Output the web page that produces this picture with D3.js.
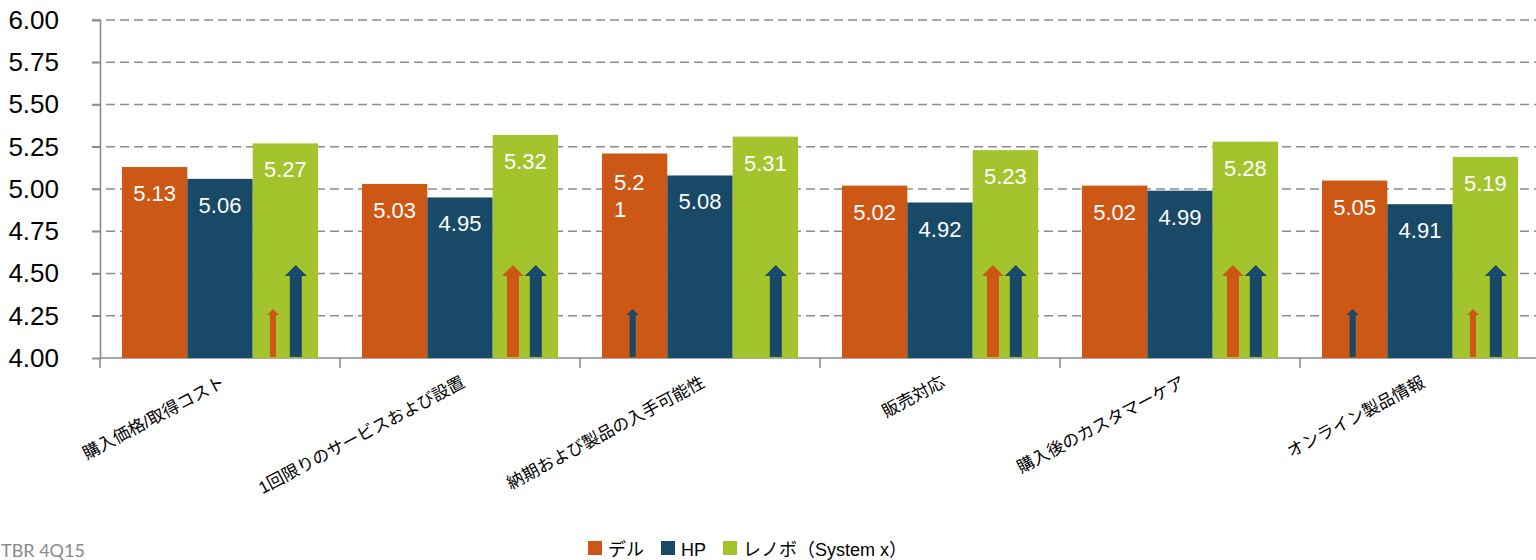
<!DOCTYPE html>
<html>
<head>
<meta charset="utf-8">
<script src="https://cdn.jsdelivr.net/npm/d3@7"></script>
<style>
  body { margin: 0; background: #fff; overflow: hidden; }
  svg { display: block; }
</style>
</head>
<body>
<div id="d3-container"></div>
<script>
/**
 * DATA
 * */
const categories = [
  "購入価格/取得コスト",
  "1回限りのサービスおよび設置",
  "納期および製品の入手可能性",
  "販売対応",
  "購入後のカスタマーケア",
  "オンライン製品情報"
];
const seriesNames = ["デル", "HP", "レノボ（System x）"];
const dell = [5.13, 5.03, 5.21, 5.02, 5.02, 5.05];
const hp = [5.06, 4.95, 5.08, 4.92, 4.99, 4.91];
const lenovo = [5.27, 5.32, 5.31, 5.23, 5.28, 5.19];
const yTicks = [4.00, 4.25, 4.50, 4.75, 5.00, 5.25, 5.50, 5.75, 6.00];

// significance arrows: [category, bar it sits in, series it beats, size]
const arrows = [
  [0, 2, 0, "small"], [0, 2, 1, "big"],
  [1, 2, 0, "big"], [1, 2, 1, "big"],
  [2, 0, 1, "small"], [2, 2, 1, "big"],
  [3, 2, 0, "big"], [3, 2, 1, "big"],
  [4, 2, 0, "big"], [4, 2, 1, "big"],
  [5, 0, 1, "small"], [5, 2, 0, "small"], [5, 2, 1, "big"]
];

/**
 * CONSTANTS
 * */
const width = 1536, height = 560;
const margin = { top: 20, left: 100, right: -4, bottom: 202 };
const colors = ["#cd5715", "#184966", "#a3c42d"];
const numFont = "'Liberation Sans', Arial, sans-serif";
const jpFont = "'Liberation Sans', 'Noto Sans CJK JP', sans-serif";
const arrowStyle = {
  big: { tip: 4.55, shaft: 12, head: 22, headH: 11 },
  small: { tip: 4.29, shaft: 6, head: 12, headH: 6 }
};

const values = [dell, hp, lenovo];

const svg = d3.select("#d3-container")
  .append("svg")
  .attr("width", width)
  .attr("height", height);

const x0 = d3.scaleBand()
  .domain(d3.range(categories.length))
  .range([margin.left, width - margin.right])
  .paddingInner(0.183)
  .paddingOuter(0.0915);

const x1 = d3.scaleBand()
  .domain(d3.range(seriesNames.length))
  .range([0, x0.bandwidth()]);

const y = d3.scaleLinear()
  .domain([4, 6])
  .range([height - margin.bottom, margin.top]);

const step = x0.step();
const plotLeft = margin.left;
const baseY = y(4);

// gridlines
svg.append("g")
  .selectAll("line")
  .data(yTicks.filter(d => d > 4))
  .join("line")
  .attr("x1", plotLeft - 8)
  .attr("x2", width)
  .attr("y1", d => y(d))
  .attr("y2", d => y(d))
  .attr("stroke", "#8c8c8c")
  .attr("stroke-width", 1.6)
  .attr("stroke-dasharray", "9,5");

// y axis
const yAxis = svg.append("g")
  .attr("transform", `translate(${plotLeft},0)`)
  .call(d3.axisLeft(y).tickValues(yTicks).tickFormat(d3.format(".2f")).tickSize(8).tickPadding(33));
yAxis.select(".domain").attr("stroke", "#8c8c8c").attr("stroke-width", 1.6);
yAxis.selectAll(".tick line").attr("stroke", "#8c8c8c").attr("stroke-width", 1.6).attr("x2", -8);
yAxis.selectAll(".tick text")
  .attr("fill", "#000")
  .style("font-family", numFont)
  .style("font-size", "26px");

// x axis
svg.append("line")
  .attr("x1", plotLeft).attr("x2", width)
  .attr("y1", baseY).attr("y2", baseY)
  .attr("stroke", "#8c8c8c").attr("stroke-width", 1.6);

svg.append("g")
  .selectAll("line")
  .data(d3.range(categories.length + 1))
  .join("line")
  .attr("x1", i => plotLeft + i * step)
  .attr("x2", i => plotLeft + i * step)
  .attr("y1", baseY)
  .attr("y2", baseY + 10)
  .attr("stroke", "#8c8c8c")
  .attr("stroke-width", 1.6);

// category labels
svg.append("g")
  .selectAll("text")
  .data(categories)
  .join("text")
  .attr("transform", (d, i) => `translate(${x0(i) + x0.bandwidth() / 2 + 6},${baseY + 28}) rotate(-28)`)
  .attr("text-anchor", "end")
  .style("font-family", jpFont)
  .style("font-size", "17px")
  .attr("fill", "#000")
  .text(d => d);

// bars
const group = svg.append("g")
  .selectAll("g")
  .data(categories)
  .join("g")
  .attr("transform", (d, i) => `translate(${x0(i)},0)`);

group.selectAll("rect")
  .data((d, i) => values.map((v, s) => ({ s, v: v[i] })))
  .join("rect")
  .attr("x", d => x1(d.s))
  .attr("width", x1.bandwidth())
  .attr("y", d => y(d.v))
  .attr("height", d => baseY - y(d.v))
  .attr("fill", d => colors[d.s]);

// value labels (the 5.21 label wraps in the original)
group.selectAll("text")
  .data((d, i) => values.map((v, s) => ({ s, v: v[i], i })))
  .join("text")
  .attr("fill", "#fff")
  .style("font-family", numFont)
  .style("font-size", "22px")
  .each(function(d) {
    const t = d3.select(this);
    const label = d.v.toFixed(2);
    const top = y(d.v);
    if (d.s === 0 && d.i === 2) {
      t.attr("text-anchor", "start");
      t.append("tspan").attr("x", x1(d.s) + 12).attr("y", top + 36).text(label.slice(0, 3));
      t.append("tspan").attr("x", x1(d.s) + 12).attr("y", top + 63).text(label.slice(3));
    } else {
      t.attr("text-anchor", "middle")
        .attr("x", x1(d.s) + x1.bandwidth() / 2)
        .attr("y", top + 34)
        .text(label);
    }
  });

// arrows
function arrowPath(cx, top, bottom, st) {
  const hs = st.shaft / 2, hh = st.head / 2, neck = top + st.headH;
  return `M${cx},${top}L${cx + hh},${neck}L${cx + hs},${neck}L${cx + hs},${bottom}` +
    `L${cx - hs},${bottom}L${cx - hs},${neck}L${cx - hh},${neck}Z`;
}

svg.append("g")
  .selectAll("path")
  .data(arrows)
  .join("path")
  .attr("fill", d => colors[d[2]])
  .attr("d", d => {
    const [cat, bar, vs, size] = d;
    const st = arrowStyle[size];
    const bw = x1.bandwidth();
    let frac = vs === 0 ? 0.31 : 0.66;
    if (bar === 0) frac = 0.47;
    const cx = x0(cat) + x1(bar) + bw * frac;
    return arrowPath(cx, y(st.tip), baseY - 1, st);
  });

// legend
const legend = svg.append("g").attr("transform", "translate(588,541)");
let lx = 0;
seriesNames.forEach((name, s) => {
  legend.append("rect")
    .attr("x", lx).attr("y", 0)
    .attr("width", 14).attr("height", 14)
    .attr("fill", colors[s]);
  const t = legend.append("text")
    .attr("x", lx + 20)
    .attr("y", 15)
    .style("font-family", jpFont)
    .style("font-size", "18px")
    .attr("fill", "#000")
    .text(name);
  lx += 20 + t.node().getComputedTextLength() + 17;
});

// source note
svg.append("text")
  .attr("x", 1)
  .attr("y", 557)
  .style("font-family", "Lato, 'Open Sans', sans-serif")
  .style("font-size", "18px")
  .attr("fill", "#8a8a8a")
  .text("TBR 4Q15");
</script>
</body>
</html>
